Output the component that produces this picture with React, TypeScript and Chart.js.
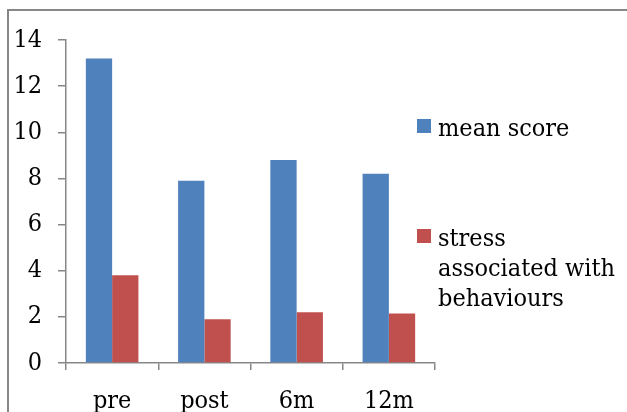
import React, { useEffect, useRef } from "react";
import { Chart, registerables } from "chart.js";

Chart.register(...registerables);

const categories = ["pre", "post", "6m", "12m"];
const meanScore = [13.2, 7.9, 8.8, 8.2];
const stressBehaviours = [3.8, 1.9, 2.2, 2.15];
const seriesLabels = ["mean score", "stress associated with behaviours"];
const yTicksMin = 0;
const yTicksMax = 14;
const yStep = 2;

const FONT = "'DejaVu Serif Condensed', 'Liberation Serif', serif";
const FSIZE = 25;
const GREY = "#878787";

const framePlugin = {
  id: "frameAndLegend",
  afterDraw(chart: any) {
    const ctx = chart.ctx as CanvasRenderingContext2D;
    ctx.save();
    ctx.strokeStyle = GREY;
    ctx.lineWidth = 2;
    ctx.beginPath();
    ctx.moveTo(8, 412);
    ctx.lineTo(8, 10);
    ctx.lineTo(627, 10);
    ctx.stroke();

    const ds = chart.data.datasets;
    const baselines = [136, 246];
    const boxX = 417;
    const textX = 438;
    const maxW = 185;
    const lineH = 30;
    ctx.font = `${FSIZE}px ${FONT}`;
    ctx.textBaseline = "alphabetic";
    ctx.textAlign = "left";
    ds.forEach((d: any, i: number) => {
      const b = baselines[i];
      ctx.fillStyle = d.backgroundColor;
      ctx.fillRect(boxX, b - 17, 14, 14);
      ctx.fillStyle = "#000";
      const words = String(d.label).split(" ");
      const lines: string[] = [];
      let cur = "";
      words.forEach((w) => {
        const t = cur ? cur + " " + w : w;
        if (ctx.measureText(t).width > maxW && cur) {
          lines.push(cur);
          cur = w;
        } else cur = t;
      });
      if (cur) lines.push(cur);
      lines.forEach((ln, k) => ctx.fillText(ln, textX, b + k * lineH));
    });
    ctx.restore();
  },
};

export default function App() {
  const ref = useRef<HTMLCanvasElement | null>(null);
  useEffect(() => {
    if (!ref.current) return;
    const chart = new Chart(ref.current, {
      type: "bar",
      data: {
        labels: categories,
        datasets: [
          {
            label: seriesLabels[0],
            data: meanScore,
            backgroundColor: "#4F81BD",
            categoryPercentage: 0.57,
            barPercentage: 1,
          },
          {
            label: seriesLabels[1],
            data: stressBehaviours,
            backgroundColor: "#C0504D",
            categoryPercentage: 0.57,
            barPercentage: 1,
          },
        ],
      },
      options: {
        responsive: false,
        animation: false,
        layout: { padding: { top: 40, right: 192, bottom: 0, left: 0 } },
        plugins: {
          legend: { display: false },
          tooltip: { enabled: false },
        },
        scales: {
          x: {
            offset: true,
            grid: {
              offset: true,
              drawOnChartArea: false,
              tickLength: 7,
              color: GREY,
              lineWidth: 1.5,
            },
            border: { color: GREY, width: 1.5 },
            ticks: {
              font: { family: FONT, size: FSIZE },
              color: "#000",
              padding: 16,
              maxRotation: 0,
            },
            afterFit(scale: any) {
              scale.height = 49;
            },
          },
          y: {
            min: yTicksMin,
            max: yTicksMax,
            grid: {
              drawOnChartArea: false,
              tickLength: 8,
              color: GREY,
              lineWidth: 1.5,
            },
            border: { color: GREY, width: 1.5 },
            ticks: {
              stepSize: yStep,
              font: { family: FONT, size: FSIZE },
              color: "#000",
              padding: 16,
            },
            afterFit(scale: any) {
              scale.width = 66;
            },
          },
        },
      },
      plugins: [framePlugin],
    });
    return () => chart.destroy();
  }, []);
  return (
    <div style={{ position: "fixed", left: 0, top: 0, width: 627, height: 412, background: "#fff" }}>
      <canvas ref={ref} width={627} height={412} style={{ display: "block" }} />
    </div>
  );
}
